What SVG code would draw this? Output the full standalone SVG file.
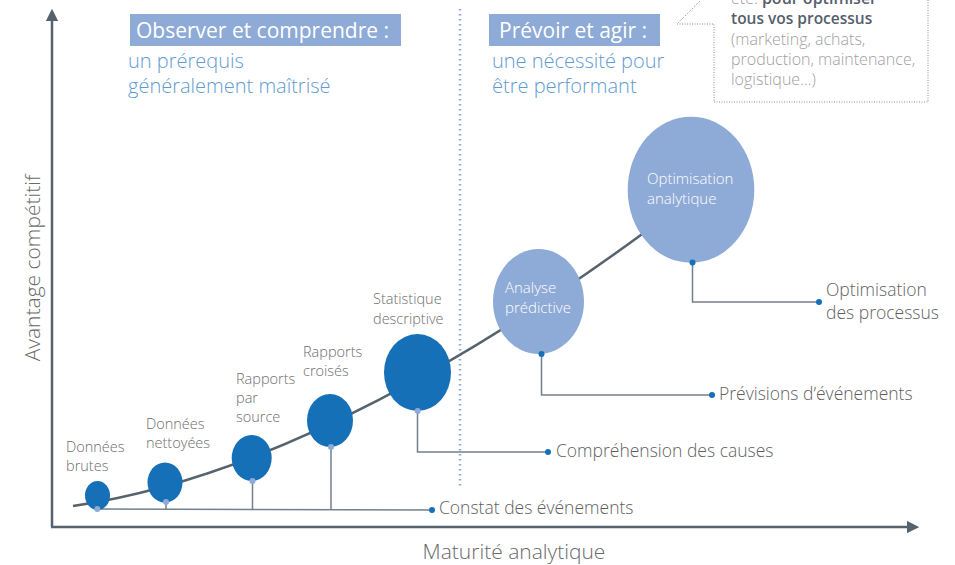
<svg xmlns="http://www.w3.org/2000/svg" width="955" height="565" viewBox="0 0 955 565">
<style>
text{font-family:"Open Sans","Liberation Sans",sans-serif;font-weight:300}
.lbl{font-size:14.5px;fill:#6e6e6e}
.out{font-size:17.5px;fill:#5f5f5f}
.ax{font-size:21px;fill:#6a6a6a}
.hd{font-size:21px;fill:#ffffff;font-weight:400}
.sub{font-size:20px;fill:#5f9bd2}
.in{font-size:15px;fill:#ffffff}
.dark{fill:#1570b8}
.light{fill:#8eaad6}
.lead{fill:none;stroke:#74808b;stroke-width:1.5}
.bx{font-size:16px;fill:#a0a0a0}
</style>
<defs>
<marker id="arr" viewBox="0 0 10 10" refX="1" refY="5" markerWidth="5" markerHeight="5" orient="auto-start-reverse"><path d="M0,0 L10,5 L0,10 z" fill="#56626d"/></marker>
</defs>
<g id="axes">
<path d="M52,527 L52,20" stroke="#56626d" stroke-width="2.5" fill="none" marker-end="url(#arr)"/>
<path d="M51,527 L908,527" stroke="#56626d" stroke-width="2.5" fill="none" marker-end="url(#arr)"/>
<text class="ax" transform="translate(40,268) rotate(-90)" text-anchor="middle">Avantage compétitif</text>
<text class="ax" x="514" y="559" text-anchor="middle">Maturité analytique</text>
</g>
<g id="divider">
<line x1="460" y1="9" x2="460" y2="488" stroke="#8eaad6" stroke-width="2.5" stroke-dasharray="1.5,3.5"/>
</g>
<g id="header-left">
<rect x="130" y="14" width="271" height="32" fill="#8eaad6"/>
<text class="hd" x="136" y="38">Observer et comprendre :</text>
<text class="sub" x="128" y="68">un prérequis</text>
<text class="sub" x="128" y="93">généralement maîtrisé</text>
</g>
<g id="header-right">
<rect x="489" y="14" width="171" height="32" fill="#8eaad6"/>
<text class="hd" x="499" y="38">Prévoir et agir :</text>
<text class="sub" x="492" y="68">une nécessité pour</text>
<text class="sub" x="492" y="93">être performant</text>
</g>
<g id="callout">
<path d="M928,0 L928,102 L714,102 L714,24 L677,24 L703,-2" fill="none" stroke="#8a8a8a" stroke-width="1" stroke-dasharray="1,1.5"/>
<text class="bx" x="731" y="4"><tspan>été. </tspan><tspan style="font-weight:600;fill:#55606b">pour optimiser</tspan></text>
<text class="bx" x="731" y="24" style="font-weight:600;fill:#55606b;font-size:15.5px">tous vos processus</text>
<text class="bx" x="731" y="45">(marketing, achats,</text>
<text class="bx" x="731" y="65">production, maintenance,</text>
<text class="bx" x="731" y="85">logistique…)</text>
</g>
<g id="connectors">
<path d="M73,506 Q320,470 645,232" fill="none" stroke="#56626d" stroke-width="2.5"/>
<path class="lead" d="M97,509 L432,510 M166,502 L166,510 M252.5,481 L252.5,510 M331,447 L331,510"/>
<path class="lead" d="M417.5,411 L417.5,452 L548,452"/>
<path class="lead" d="M541.5,354 L541.5,395 L712,395"/>
<path class="lead" d="M692.5,262 L692.5,302 L819,302"/>
<circle cx="432" cy="510" r="3" class="dark"/>
<circle cx="548" cy="452" r="3" class="dark"/>
<circle cx="712" cy="395" r="3" class="dark"/>
<circle cx="819" cy="302" r="3" class="dark"/>
<text class="out" x="439" y="514">Constat des événements</text>
<text class="out" x="556" y="457">Compréhension des causes</text>
<text class="out" x="719" y="400">Prévisions d’événements</text>
<text class="out" x="826" y="296">Optimisation</text>
<text class="out" x="826" y="319">des processus</text>
</g>
<g id="n1">
<ellipse cx="97.5" cy="495.5" rx="12.5" ry="14.5" class="dark"/>
<circle cx="97.3" cy="509" r="3" class="light"/>
<text class="lbl" x="66" y="452">Données</text>
<text class="lbl" x="66" y="471">brutes</text>
</g>
<g id="n2">
<ellipse cx="165" cy="482.5" rx="17.5" ry="20" class="dark"/>
<circle cx="166" cy="502" r="3" class="light"/>
<text class="lbl" x="146" y="429">Données</text>
<text class="lbl" x="146" y="448">nettoyées</text>
</g>
<g id="n3">
<ellipse cx="251.7" cy="458" rx="20" ry="23" class="dark"/>
<circle cx="252.5" cy="481" r="3" class="light"/>
<text class="lbl" x="236" y="384">Rapports</text>
<text class="lbl" x="236" y="403">par</text>
<text class="lbl" x="236" y="422">source</text>
</g>
<g id="n4">
<ellipse cx="330" cy="420.5" rx="23" ry="26.5" class="dark"/>
<circle cx="331" cy="447" r="3" class="light"/>
<text class="lbl" x="303" y="357">Rapports</text>
<text class="lbl" x="303" y="376">croisés</text>
</g>
<g id="n5">
<ellipse cx="417.5" cy="372.5" rx="33.5" ry="38.5" class="dark"/>
<circle cx="417.7" cy="411" r="3" class="light"/>
<text class="lbl" x="373" y="304">Statistique</text>
<text class="lbl" x="373" y="324">descriptive</text>
</g>
<g id="n6">
<ellipse cx="538.5" cy="301.5" rx="45.5" ry="52.5" class="light"/>
<circle cx="541.5" cy="354" r="3" class="dark"/>
<text class="in" x="505" y="293">Analyse</text>
<text class="in" x="505" y="313">prédictive</text>
</g>
<g id="n7">
<ellipse cx="691" cy="189.7" rx="63.3" ry="73" class="light"/>
<circle cx="692.5" cy="262.5" r="3" class="dark"/>
<text class="in" x="647" y="184">Optimisation</text>
<text class="in" x="647" y="204">analytique</text>
</g>
</svg>
